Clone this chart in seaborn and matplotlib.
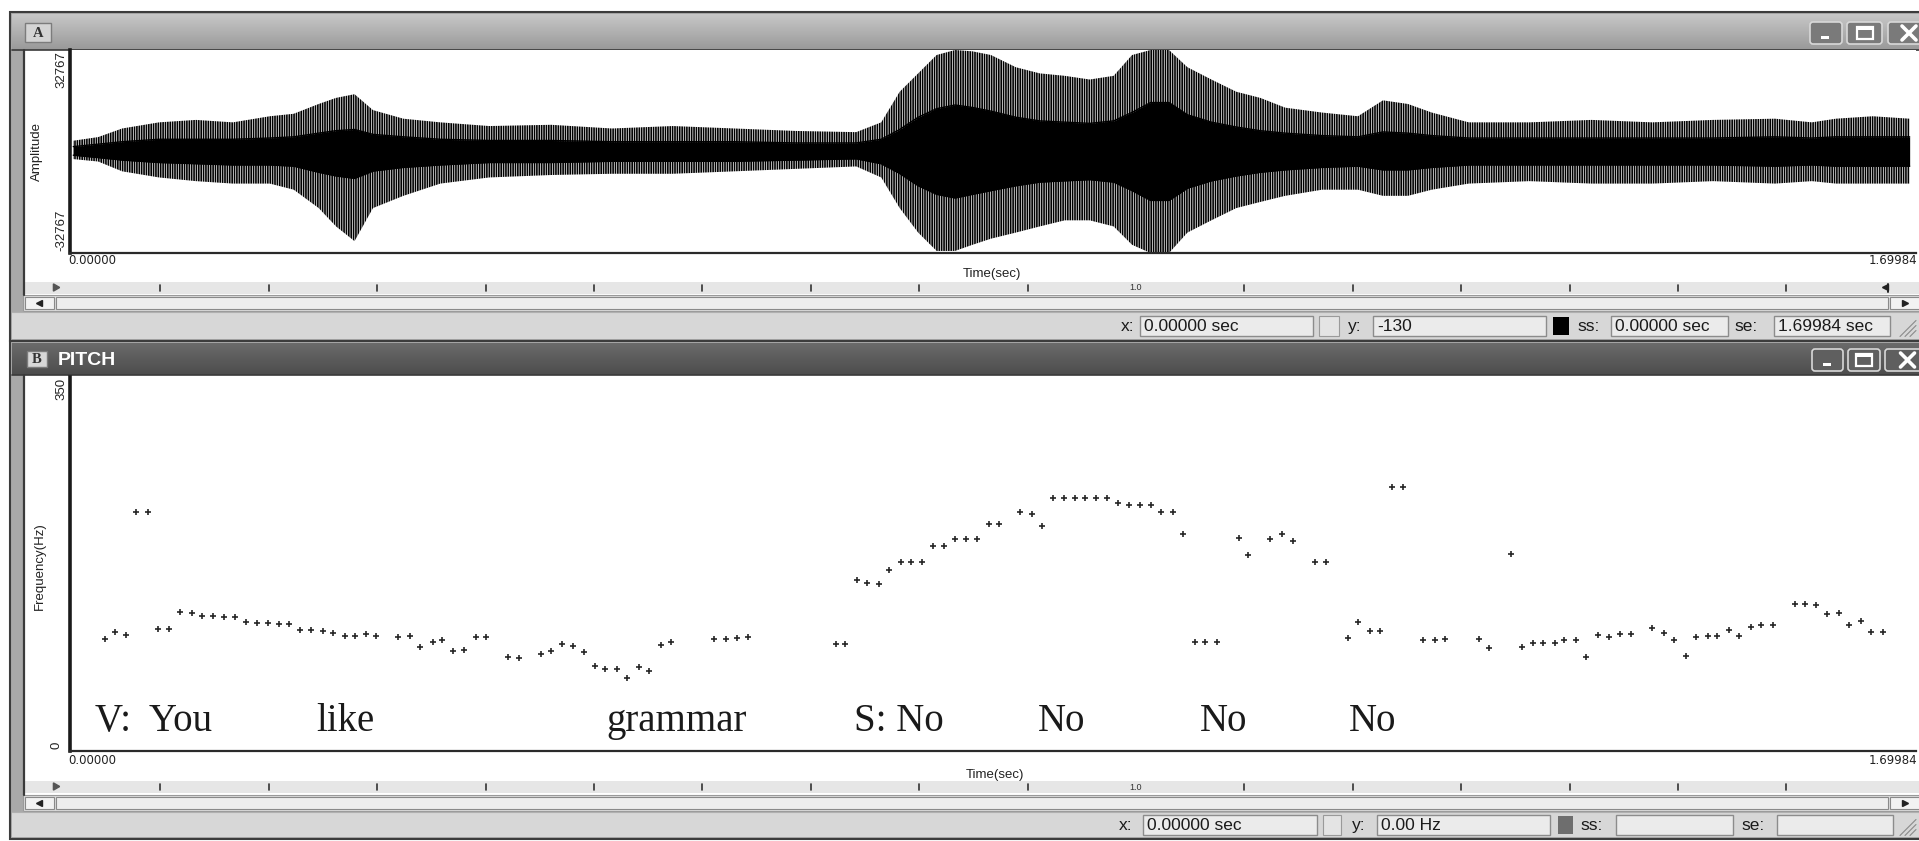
import matplotlib
matplotlib.use("Agg")
import matplotlib.pyplot as plt
from matplotlib.patches import Rectangle, FancyBboxPatch
import numpy as np
import pandas as pd
import seaborn as sns

# ------------------------------------------------------------------ data
DURATION = 1.69984

pitch_time = [0.032, 0.041, 0.052, 0.061, 0.072, 0.081, 0.091, 0.101, 0.112, 0.122,
              0.132, 0.142, 0.152, 0.162, 0.172, 0.182, 0.192, 0.202, 0.212, 0.222,
              0.233, 0.242, 0.253, 0.262, 0.273, 0.282, 0.302, 0.313, 0.322, 0.334,
              0.343, 0.353, 0.363, 0.374, 0.383, 0.403, 0.413, 0.434, 0.443, 0.453,
              0.463, 0.473, 0.483, 0.493, 0.504, 0.513, 0.524, 0.533, 0.544, 0.553,
              0.593, 0.604, 0.614, 0.624, 0.705, 0.714, 0.725, 0.734, 0.745, 0.754,
              0.765, 0.774, 0.785, 0.795, 0.805, 0.815, 0.825, 0.835, 0.846, 0.855,
              0.875, 0.886, 0.895, 0.905, 0.915, 0.925, 0.935, 0.945, 0.955, 0.965,
              0.975, 0.985, 0.995, 1.005, 1.016, 1.025, 1.036, 1.045, 1.056, 1.076,
              1.085, 1.105, 1.116, 1.126, 1.146, 1.157, 1.177, 1.186, 1.197, 1.206,
              1.217, 1.227, 1.246, 1.257, 1.266, 1.297, 1.307, 1.327, 1.337, 1.347,
              1.356, 1.367, 1.376, 1.387, 1.396, 1.407, 1.417, 1.427, 1.437, 1.457,
              1.468, 1.477, 1.488, 1.497, 1.508, 1.517, 1.528, 1.537, 1.548, 1.557,
              1.568, 1.588, 1.598, 1.608, 1.618, 1.629, 1.638, 1.649, 1.658, 1.669]

pitch_hz = [104.8, 111.0, 108.2, 223.6, 223.6, 114.5, 114.5, 129.8, 129.5, 126.4,
            126.4, 125.5, 125.5, 121.0, 119.8, 119.8, 118.5, 118.5, 113.3, 113.3,
            112.3, 110.1, 107.9, 107.9, 109.1, 107.9, 107.0, 107.9, 96.9, 102.3,
            103.9, 93.8, 94.8, 107.0, 107.0, 88.2, 87.3, 90.4, 93.8, 100.4,
            97.9, 92.9, 79.5, 77.2, 77.2, 68.5, 78.5, 75.1, 99.5, 102.3,
            104.4, 104.4, 105.8, 107.0, 100.2, 100.2, 160.3, 157.0, 156.0, 169.2,
            176.7, 176.7, 176.7, 191.7, 191.7, 198.3, 198.3, 198.3, 212.7, 212.7,
            223.6, 221.5, 210.5, 236.7, 236.7, 236.7, 236.7, 236.7, 236.7, 232.4,
            230.2, 230.2, 230.2, 223.6, 223.6, 203.0, 102.0, 101.6, 101.6, 199.7,
            183.0, 198.6, 202.7, 196.1, 176.7, 176.7, 106.0, 121.0, 112.3, 112.3,
            247.4, 247.4, 103.5, 103.5, 104.8, 104.8, 96.0, 184.2, 96.9, 101.3,
            101.3, 101.3, 103.7, 103.7, 88.2, 108.1, 106.7, 109.1, 109.1, 115.4,
            110.1, 103.5, 89.1, 107.0, 107.9, 107.9, 113.5, 107.9, 115.7, 118.0,
            118.0, 137.7, 137.7, 136.7, 128.6, 129.5, 117.6, 121.3, 111.4, 111.4]

# waveform: outer (spike tips) and dense core envelopes
wave_time = [0.003, 0.026, 0.048, 0.082, 0.116, 0.150, 0.184, 0.206, 0.229, 0.245,
             0.262, 0.279, 0.307, 0.341, 0.386, 0.443, 0.499, 0.555, 0.612, 0.668,
             0.724, 0.747, 0.764, 0.781, 0.798, 0.815, 0.831, 0.848, 0.871, 0.893,
             0.916, 0.939, 0.961, 0.978, 0.995, 1.012, 1.029, 1.051, 1.074, 1.096,
             1.119, 1.153, 1.186, 1.209, 1.232, 1.254, 1.288, 1.344, 1.401, 1.457,
             1.513, 1.570, 1.604, 1.626, 1.660, 1.694]
wave_upper = [3480, 4660, 7430, 9410, 10200, 9410, 11380, 12180, 15340, 17310,
              18500, 13360, 10590, 9410, 8220, 8620, 7430, 8220, 7430, 6640,
              6250, 9410, 19290, 25220, 31150, 32767, 32340, 31150, 27200, 25220,
              24430, 23240, 24430, 31150, 32767, 32767, 27200, 23240, 19290, 17310,
              14150, 12570, 11380, 16520, 15340, 12570, 9410, 9410, 10200, 9410,
              10200, 10590, 9410, 10590, 11380, 10590]
wave_lower = [-2450, -3240, -6400, -8380, -9570, -10360, -10360, -12330, -18260, -24190,
              -28940, -18260, -14310, -10360, -8380, -7590, -7190, -7190, -6400, -5610,
              -4820, -8380, -18260, -26170, -32100, -32100, -30120, -28150, -26170, -24190,
              -22220, -22220, -24190, -30120, -32767, -32767, -26170, -22220, -18260, -16290,
              -14310, -12330, -12330, -14310, -14310, -12330, -10360, -9570, -10360, -10360,
              -9570, -10360, -9570, -10360, -10360, -10360]
core_upper = [1580, 2370, 3160, 3950, 3950, 3950, 4350, 4740, 5930, 6720,
              7110, 5530, 4740, 3950, 3560, 3560, 3160, 3160, 3160, 2770,
              2770, 3950, 7110, 11060, 13830, 15010, 14220, 13040, 11060, 9880,
              9480, 9090, 9880, 12640, 15800, 15800, 11850, 9480, 7900, 6720,
              5930, 5140, 4740, 6320, 5930, 5140, 4350, 4350, 4350, 4350,
              4350, 4740, 4350, 4740, 4740, 4740]
core_lower = [-1190, -1980, -2770, -3560, -3950, -4350, -4350, -4740, -6720, -7900,
              -8690, -6320, -5140, -4350, -3560, -3560, -3160, -3160, -3160, -2770,
              -2370, -3950, -7110, -11060, -13830, -15010, -13830, -12640, -11060, -9880,
              -9480, -9090, -9880, -12640, -15800, -15800, -11850, -9480, -7900, -6720,
              -5930, -5140, -4740, -5930, -5930, -5140, -4350, -4350, -4350, -4350,
              -4350, -4740, -4350, -4740, -4740, -4740]

words = ["V:  You", "like", "grammar", "S: No", "No", "No", "No"]
word_time = [0.023, 0.227, 0.494, 0.722, 0.891, 1.040, 1.178]
word_hz = [19, 19, 19, 19, 19, 19, 19]

ruler_ticks = [0.1, 0.2, 0.3, 0.4, 0.5, 0.6, 0.7, 0.8, 0.9, 1.0,
               1.1, 1.2, 1.3, 1.4, 1.5, 1.6]

status_a = {"x": "0.00000 sec", "y": "-130", "ss": "0.00000 sec", "se": "1.69984 sec"}
status_b = {"x": "0.00000 sec", "y": "0.00 Hz", "ss": "", "se": ""}

# ------------------------------------------------------------------ setup
W, H = 1919, 841
sns.set_theme(style="white")
plt.rcParams['font.family'] = ['Liberation Sans', 'DejaVu Sans']
plt.rcParams['hatch.linewidth'] = 1.2

fig = plt.figure(figsize=(W / 100, H / 100), dpi=100, facecolor='white')
bg = fig.add_axes([0, 0, 1, 1])
bg.axis('off')

SANS = ['Liberation Sans', 'DejaVu Sans']
NARROW = ['Liberation Sans Narrow', 'Liberation Sans', 'DejaVu Sans']
SERIF = ['Liberation Serif', 'DejaVu Serif']


def rect(x0, y0, x1, y1, fc, ec='none', lw=0, z=1):
    bg.add_patch(Rectangle((x0, y0), x1 - x0, y1 - y0, facecolor=fc,
                           edgecolor=ec, linewidth=lw, zorder=z))


def grad(x0, y0, x1, y1, c_top, c_bot, z=1):
    g = np.linspace(c_top, c_bot, 64).reshape(-1, 1)
    bg.imshow(g, extent=(x0, x1, y1, y0), aspect='auto', cmap='gray',
              vmin=0, vmax=1, zorder=z, interpolation='bilinear')


def px_axes(x0, y0, x1, y1):
    return fig.add_axes([x0 / W, 1 - y1 / H, (x1 - x0) / W, (y1 - y0) / H])


def button(x0, y0, x1, y1, glyph, dark):
    fc = '#5f5f5f' if dark else '#7a7a7a'
    bg.add_patch(FancyBboxPatch((x0, y0), x1 - x0, y1 - y0,
                                boxstyle="round,pad=0,rounding_size=3",
                                facecolor=fc, edgecolor='#d8d8d8', linewidth=1.2, zorder=5))
    cx, cy = (x0 + x1) / 2, (y0 + y1) / 2
    if glyph == 'min':
        rect(cx - 5, cy + 3, cx + 3, cy + 6, 'white', z=6)
    elif glyph == 'max':
        rect(cx - 8, cy - 6, cx + 8, cy + 6, 'none', ec='white', lw=1.6, z=6)
        rect(cx - 8, cy - 6, cx + 8, cy - 3, 'white', z=6)
    else:
        bg.plot([cx - 7, cx + 7], [cy - 7, cy + 7], color='white', lw=2.6, zorder=6)
        bg.plot([cx - 7, cx + 7], [cy + 7, cy - 7], color='white', lw=2.6, zorder=6)


def field(x0, x1, yc, txt):
    rect(x0, yc - 10, x1, yc + 10, '#ebebeb', ec='#8c8c8c', lw=1.0, z=3)
    bg.text(x0 + 4, yc + 1, txt, fontsize=12.5, family=SANS, color='#1a1a1a',
            va='center', ha='left', zorder=4)


def label(x, yc, txt):
    bg.text(x, yc + 1, txt, fontsize=12.5, family=SANS, color='#1a1a1a',
            va='center', ha='left', zorder=4)


def panel_chrome(top, bottom, title_y0, title_y1, dark, ruler_y, scroll_y0,
                 scroll_y1, stat_y0):
    rect(10, top, 1921, bottom, '#a9a9a9', ec='#3c3c3c', lw=1.5, z=1)
    if dark:
        grad(12, title_y0, 1921, title_y1, 0.42, 0.30, z=2)
    else:
        grad(12, title_y0, 1921, title_y1, 0.78, 0.60, z=2)
    bg.plot([12, 1921], [title_y1, title_y1], color='#3a3a3a', lw=1.2, zorder=3)
    rect(23, title_y1, 1921, stat_y0, 'white', z=2)
    bg.plot([24, 24], [title_y1, scroll_y0], color='#3a3a3a', lw=1.6, zorder=3)
    rect(23, ruler_y - 6, 1921, ruler_y + 6, '#e6e6e6', z=2)
    rect(23, scroll_y0, 1921, scroll_y1, '#dcdcdc', ec='#9a9a9a', lw=0.8, z=2)
    rect(56, scroll_y0 + 2, 1888, scroll_y1 - 2, '#eeeeee', ec='#8a8a8a', lw=0.8, z=3)
    rect(25, scroll_y0 + 2, 54, scroll_y1 - 2, '#f2f2f2', ec='#8a8a8a', lw=0.8, z=3)
    rect(1890, scroll_y0 + 2, 1921, scroll_y1 - 2, '#f2f2f2', ec='#8a8a8a', lw=0.8, z=3)
    ym = (scroll_y0 + scroll_y1) / 2
    bg.plot([39], [ym], marker='<', color='#222222', ms=4, zorder=4)
    bg.plot([1905], [ym], marker='>', color='#222222', ms=4, zorder=4)
    rect(12, stat_y0, 1921, bottom - 2, '#d7d7d7', z=2)
    bg.plot([12, 1921], [stat_y0, stat_y0], color='#b0b0b0', lw=0.8, zorder=3)
    return (stat_y0 + bottom - 2) / 2


# ------------------------------------------------------------------ panel A chrome
ycA = panel_chrome(12, 341, 14, 50, False, 288, 295, 311, 312)
rect(25, 23, 51, 42, '#d4d4d4', ec='#7c7c7c', lw=1.0, z=4)
bg.text(38, 33, 'A', family=SERIF, fontweight='bold', fontsize=10.5, color='#333333',
        ha='center', va='center', zorder=5)
button(1810, 22, 1842, 44, 'min', False)
button(1847, 22, 1882, 44, 'max', False)
button(1888, 22, 1930, 44, 'close', False)

# ------------------------------------------------------------------ panel B chrome
ycB = panel_chrome(341, 839, 343, 375, True, 787, 795, 811, 812)
rect(27, 351, 47, 367, '#d8d8d8', ec='#7c7c7c', lw=1.0, z=4)
bg.text(37, 359.5, 'B', family=SERIF, fontweight='bold', fontsize=10.5, color='#333333',
        ha='center', va='center', zorder=5)
bg.text(58, 360, 'PITCH', family=SANS, fontweight='bold', fontsize=14, color='white',
        ha='left', va='center', zorder=5)
button(1812, 349, 1843, 371, 'min', True)
button(1848, 349, 1880, 371, 'max', True)
button(1885, 349, 1930, 371, 'close', True)

# status fields A
label(1121, ycA, 'x:')
field(1140, 1313, ycA, status_a["x"])
rect(1319, ycA - 10, 1339, ycA + 10, '#e4e4e4', ec='#9a9a9a', lw=0.8, z=3)
label(1348, ycA, 'y:')
field(1373, 1546, ycA, status_a["y"])
rect(1553, ycA - 9, 1569, ycA + 9, 'black', z=4)
label(1577, ycA, 'ss:')
field(1611, 1728, ycA, status_a["ss"])
label(1734, ycA, 'se:')
field(1774, 1890, ycA, status_a["se"])

# status fields B
label(1119, ycB, 'x:')
field(1143, 1317, ycB, status_b["x"])
rect(1323, ycB - 10, 1341, ycB + 10, '#e4e4e4', ec='#9a9a9a', lw=0.8, z=3)
label(1352, ycB, 'y:')
field(1377, 1550, ycB, status_b["y"])
rect(1558, ycB - 9, 1573, ycB + 9, '#6e6e6e', z=4)
label(1580, ycB, 'ss:')
field(1616, 1733, ycB, status_b["ss"])
label(1741, ycB, 'se:')
field(1777, 1893, ycB, status_b["se"])

# resize grips
for yc in (ycA, ycB):
    for k in range(3):
        bg.plot([1900 + 5 * k, 1916], [yc + 11, yc - 5 + 5 * k], color='#8a8a8a', lw=0.8, zorder=4)

# rulers
for ry, right_mark in ((288, True), (787, False)):
    bg.plot([55], [ry - 1], marker=(3, 0, 30), color='#555555', ms=6, zorder=4)
    for t in ruler_ticks:
        x = 52 + t * 1084
        if abs(t - 1.0) < 1e-9:
            bg.text(x, ry, '1.0', fontsize=6.5, family=SANS, color='#333333',
                    ha='center', va='center', zorder=4)
        else:
            bg.plot([x, x], [ry - 3, ry + 3], color='#333333', lw=1.2, zorder=4)
    if right_mark:
        bg.plot([1885], [ry - 1], marker='<', color='#222222', ms=5, zorder=4)
        bg.plot([1888, 1888], [ry - 4, ry + 4], color='#222222', lw=1.4, zorder=4)

# strip labels
bg.text(37, 151, 'Amplitude', rotation=90, family=NARROW, fontsize=9.5, color='#222222',
        ha='center', va='center', zorder=5)
bg.text(61, 51, '32767', rotation=90, family=NARROW, fontsize=9.5, color='#222222',
        ha='center', va='top', zorder=5)
bg.text(61, 251, '-32767', rotation=90, family=NARROW, fontsize=9.5, color='#222222',
        ha='center', va='bottom', zorder=5)
bg.text(68, 260, '0.00000', family=['DejaVu Sans'], fontsize=8.5, color='#222222',
        ha='left', va='center', zorder=5)
bg.text(1917, 260, '1.69984', family=['DejaVu Sans'], fontsize=8.5, color='#222222',
        ha='right', va='center', zorder=5)
bg.text(992, 274, 'Time(sec)', family=SANS, fontsize=9.5, color='#222222',
        ha='center', va='center', zorder=5)

bg.text(40, 566, 'Frequency(Hz)', rotation=90, family=NARROW, fontsize=9.5, color='#222222',
        ha='center', va='center', zorder=5)
bg.text(61, 378, '350', rotation=90, family=NARROW, fontsize=9.5, color='#222222',
        ha='center', va='top', zorder=5)
bg.text(57, 749, '0', rotation=90, family=NARROW, fontsize=9.5, color='#222222',
        ha='center', va='bottom', zorder=5)
bg.text(68, 761, '0.00000', family=['DejaVu Sans'], fontsize=8.5, color='#222222',
        ha='left', va='center', zorder=5)
bg.text(1917, 761, '1.69984', family=['DejaVu Sans'], fontsize=8.5, color='#222222',
        ha='right', va='center', zorder=5)
bg.text(995, 775, 'Time(sec)', family=SANS, fontsize=9.5, color='#222222',
        ha='center', va='center', zorder=5)

bg.set_xlim(0, W)
bg.set_ylim(H, 0)

# ------------------------------------------------------------------ waveform axes
axA = px_axes(70, 50, 1916, 253)
axA.set_facecolor('white')
wave_df = pd.DataFrame({"t": wave_time, "up": wave_upper, "lo": wave_lower,
                        "cup": core_upper, "clo": core_lower})
# spike region: thin vertical strokes between the spike-tip envelope
axA.fill_between(wave_df["t"], wave_df["lo"], wave_df["up"], facecolor='white',
                 edgecolor='black', hatch='|||||||', lw=0)
# dense core
axA.fill_between(wave_df["t"], wave_df["clo"], wave_df["cup"], color='black', lw=0)
sns.lineplot(data=wave_df, x="t", y="cup", ax=axA, color='black', lw=1.0)
sns.lineplot(data=wave_df, x="t", y="clo", ax=axA, color='black', lw=1.0)
axA.set_xlim(0, DURATION)
axA.set_ylim(-32767, 32767)

# ------------------------------------------------------------------ pitch axes
axB = px_axes(70, 377, 1916, 751)
axB.set_facecolor('white')
pitch_df = pd.DataFrame({"t": pitch_time, "hz": pitch_hz})
sns.scatterplot(data=pitch_df, x="t", y="hz", ax=axB, marker='+', s=24,
                color='#262626', linewidth=1.2)
for w, t, f in zip(words, word_time, word_hz):
    axB.text(t, f, w, family=SERIF, fontsize=28, color='#1a1a1a',
             ha='left', va='baseline')
axB.set_xlim(0, DURATION)
axB.set_ylim(0, 350)

for ax in (axA, axB):
    ax.set_xticks([])
    ax.set_yticks([])
    ax.set_xlabel('')
    ax.set_ylabel('')
    ax.spines['top'].set_visible(False)
    ax.spines['right'].set_visible(False)
    ax.spines['left'].set_color('#1a1a1a')
    ax.spines['left'].set_linewidth(2.6)
    ax.spines['bottom'].set_color('#2a2a2a')
    ax.spines['bottom'].set_linewidth(1.6)

fig.savefig('out.png', dpi=100, facecolor='white')
